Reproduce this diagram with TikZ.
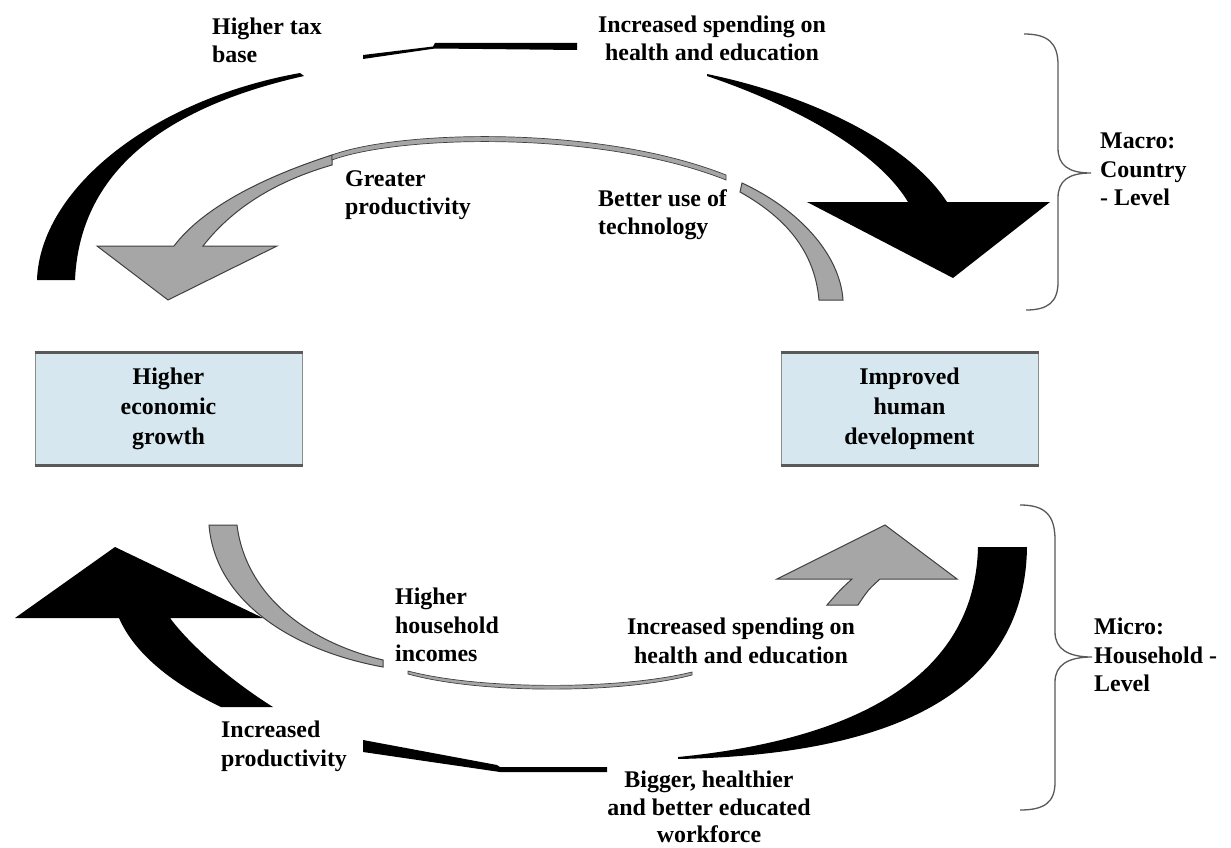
\documentclass[tikz,border=0pt]{standalone}
\usepackage{fontspec}
\setmainfont{Liberation Serif}
\definecolor{boxblue}{RGB}{214,231,239}
\begin{document}
\begin{tikzpicture}[x=1pt,y=-1pt,
  lbl/.style={inner sep=0pt, font=\fontsize{23.9}{28.5}\selectfont\bfseries},
  boxnode/.style={draw=black!45, line width=1pt, fill=boxblue, minimum height=112pt, inner sep=0pt, align=center, font=\fontsize{23.9}{30}\selectfont\bfseries},
  edge/.style={line width=3pt, draw=black!65},
  blk/.style={fill=black},
  gry/.style={fill=black!35, draw=black!75, line width=1pt},
  bracestyle/.style={draw=black!65, line width=1.3pt}
]
\useasboundingbox[fill=white] (0,0) rectangle (1231,848);

% top-left black arc (Higher tax base)
\fill[blk] (37,280) .. controls (40,190) and (150,100) .. (300,73) -- (304,76) .. controls (175,105) and (80,165) .. (75,280) -- cycle;
% top thin black line
\fill[blk] (363,55) -- (433,46.5) -- (435,43) -- (577,43) -- (577,50) -- (435,48.5) -- (363,59) -- cycle;
% top-right black arrow
\fill[blk] (707,74) .. controls (822,98) and (912,148) .. (947,202) -- (1050,202) -- (953,278) -- (807,202) -- (908,202) .. controls (878,152) and (798,107) .. (707,76) -- cycle;

% gray top arrow
\filldraw[gry] (332,155) .. controls (270,175) and (205,205) .. (174,246) -- (97,246) -- (168,300) -- (277,246) -- (203,246) .. controls (235,205) and (280,180) .. (332,165) -- cycle;
\filldraw[gry, line width=0.7pt] (332,155) .. controls (400,130) and (600,125) .. (726,175) -- (726,180) .. controls (600,130) and (400,135) .. (332,160) -- cycle;
\filldraw[gry] (742,183) .. controls (800,210) and (840,255) .. (843,300) -- (819,300) .. controls (815,255) and (790,220) .. (740,192) -- cycle;

% bottom-left black arrow
\fill[blk] (119,618) .. controls (135,655) and (175,685) .. (221,707) -- (273,707) .. controls (230,680) and (190,645) .. (170,618) -- (263,618) -- (115,547) -- (15,618) -- cycle;
% bottom thin black line
\fill[blk] (363,740) -- (497,765) -- (500,767) -- (607,767) -- (607,772) -- (500,772) -- (363,752) -- cycle;
% bottom-right black arc
\fill[blk] (1027,547) .. controls (1025,700) and (880,755) .. (678,759) -- (678,757) .. controls (850,740) and (975,680) .. (978,547) -- cycle;

% gray bottom arrow
\filldraw[gry] (209,525) .. controls (215,600) and (290,650) .. (383,667) -- (383,660) .. controls (300,640) and (245,590) .. (237,525) -- cycle;
\filldraw[gry, line width=0.7pt] (408,671) .. controls (480,690) and (620,690) .. (692,672) -- (692,675) .. controls (620,694) and (480,694) .. (408,674) -- cycle;
\filldraw[gry] (777,579) -- (885,525) -- (957,579) -- (880,579) .. controls (868,590) .. (858,605) -- (827,605) .. controls (840,590) .. (852,579) -- cycle;

% braces
\draw[bracestyle] (1024,34) .. controls (1048,34) and (1058,43) .. (1058,65) -- (1058,148) .. controls (1058,165) and (1068,173) .. (1091,173) .. controls (1068,173) and (1058,181) .. (1058,198) -- (1058,282) .. controls (1058,302) and (1048,310) .. (1026,310);
\draw[bracestyle] (1020,505) .. controls (1045,505) and (1055,515) .. (1055,540) -- (1055,632) .. controls (1055,649) and (1068,657) .. (1092,657) .. controls (1068,657) and (1055,665) .. (1055,682) -- (1055,782) .. controls (1055,802) and (1045,810) .. (1020,810);

% boxes
\node[boxnode, minimum width=267pt] (growth) at (168.5,409) {Higher\\economic\\growth};
\node[boxnode, minimum width=257pt] (hd) at (909.5,409) {Improved\\human\\development};
\draw[edge] (growth.north west) -- (growth.north east);
\draw[edge] (growth.south west) -- (growth.south east);
\draw[edge] (hd.north west) -- (hd.north east);
\draw[edge] (hd.south west) -- (hd.south east);

% labels
\node[lbl, align=left, anchor=north west] (taxbase) at (212,17.7) {Higher tax\\base};
\node[lbl, align=center, anchor=north] (spendtop) at (712,15.7) {Increased spending on\\health and education};
\node[lbl, align=left, anchor=north west] (greater) at (345,170) {Greater\\productivity};
\node[lbl, align=left, anchor=north west] (tech) at (598,189) {Better use of\\technology};
\node[lbl, align=left, anchor=north west] (macro) at (1100,133) {Macro:\\Country\\- Level};
\node[lbl, align=left, anchor=north west] (income) at (395,588) {Higher\\household\\incomes};
\node[lbl, align=center, anchor=north] (spendbot) at (741,618) {Increased spending on\\health and education};
\node[lbl, align=left, anchor=north west] (incprod) at (221,721) {Increased\\productivity};
\node[lbl, align=center, anchor=north, font=\fontsize{23.9}{27.5}\selectfont\bfseries] (workforce) at (709,771) {Bigger, healthier\\and better educated\\workforce};
\node[lbl, align=left, anchor=north west] (micro) at (1094,618) {Micro:\\Household -\\Level};
\end{tikzpicture}
\end{document}
